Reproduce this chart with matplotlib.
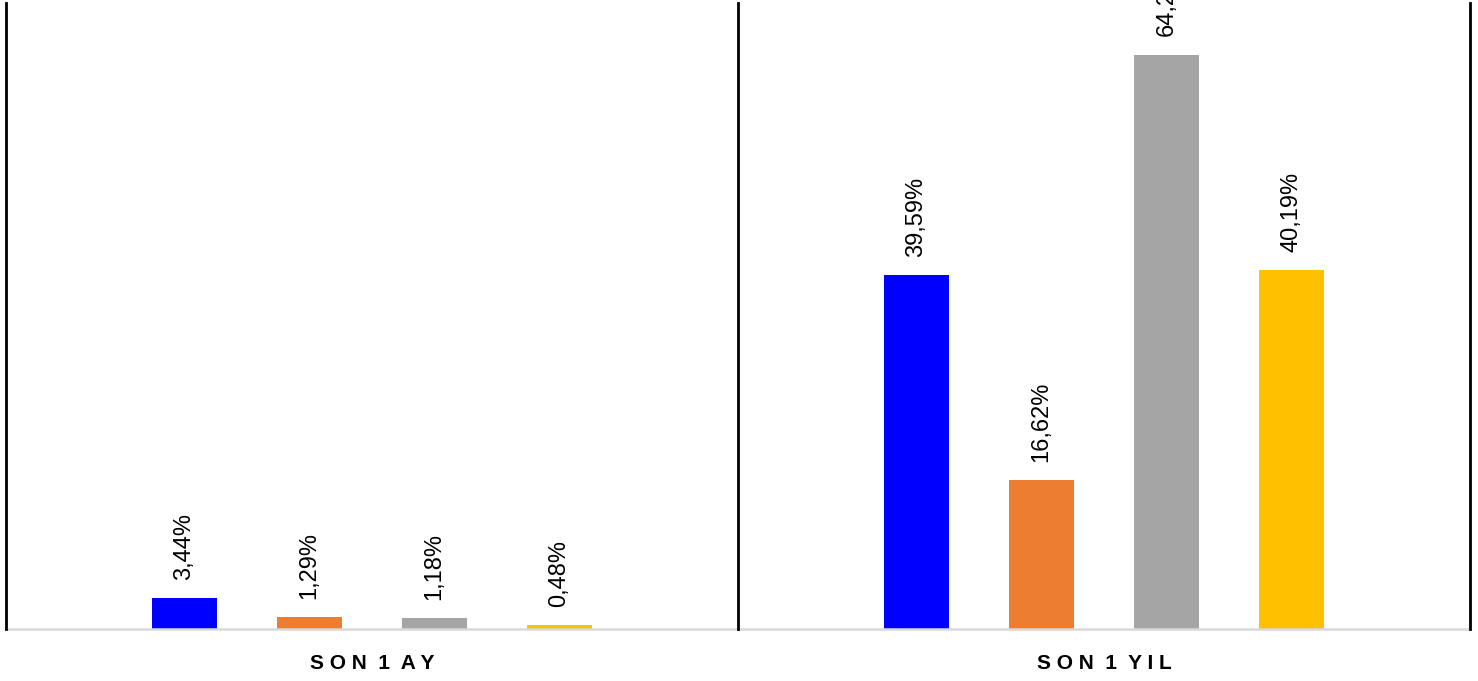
import numpy as np
import matplotlib
matplotlib.use('Agg')
import matplotlib.pyplot as plt

# period groups and the four series shown in each
periods = ['S O N  1  A Y', 'S O N  1  Y I L']
series_colors = ['#0000FF', '#ED7D31', '#A5A5A5', '#FFC000']
values_1ay = [3.44, 1.29, 1.18, 0.48]
values_1yil = [39.59, 16.62, 64.24, 40.19]

plt.rcParams['font.family'] = ['Liberation Sans', 'DejaVu Sans']

fig = plt.figure(figsize=(14.78, 6.81), dpi=100)
ax = fig.add_axes([6 / 1478, 52 / 681, 1464 / 1478, 626 / 681])

data = np.array([values_1ay, values_1yil])   # rows = periods, cols = series
x = np.arange(len(periods))
step = 0.1708
width = 0.09

for i in range(data.shape[1]):
    pos = x + (i - 1.5) * step
    bars = ax.bar(pos, data[:, i], width=width, color=series_colors[i], zorder=2)
    for b, v in zip(bars, data[:, i]):
        ax.annotate(f'{v:.2f}%'.replace('.', ','),
                    (b.get_x() + b.get_width() / 2, b.get_height()),
                    xytext=(0, 13), textcoords='offset points',
                    rotation=90, ha='center', va='bottom',
                    fontsize=17, color='#000000', annotation_clip=False)

ax.set_xlim(-0.5, 1.5)
ax.set_ylim(0, 70)

# group separators
for xv in [-0.5, 0.5, 1.5]:
    ax.axvline(xv, color='black', lw=2, clip_on=False, zorder=3)

for s in ['top', 'right', 'left']:
    ax.spines[s].set_visible(False)
ax.spines['bottom'].set_color('#D9D9D9')
ax.spines['bottom'].set_linewidth(1.8)

ax.set_yticks([])
ax.set_xticks(x)
ax.set_xticklabels(periods, fontsize=15, fontweight='bold')
ax.tick_params(axis='x', length=0, pad=18)

fig.savefig('out.png', dpi=100)
